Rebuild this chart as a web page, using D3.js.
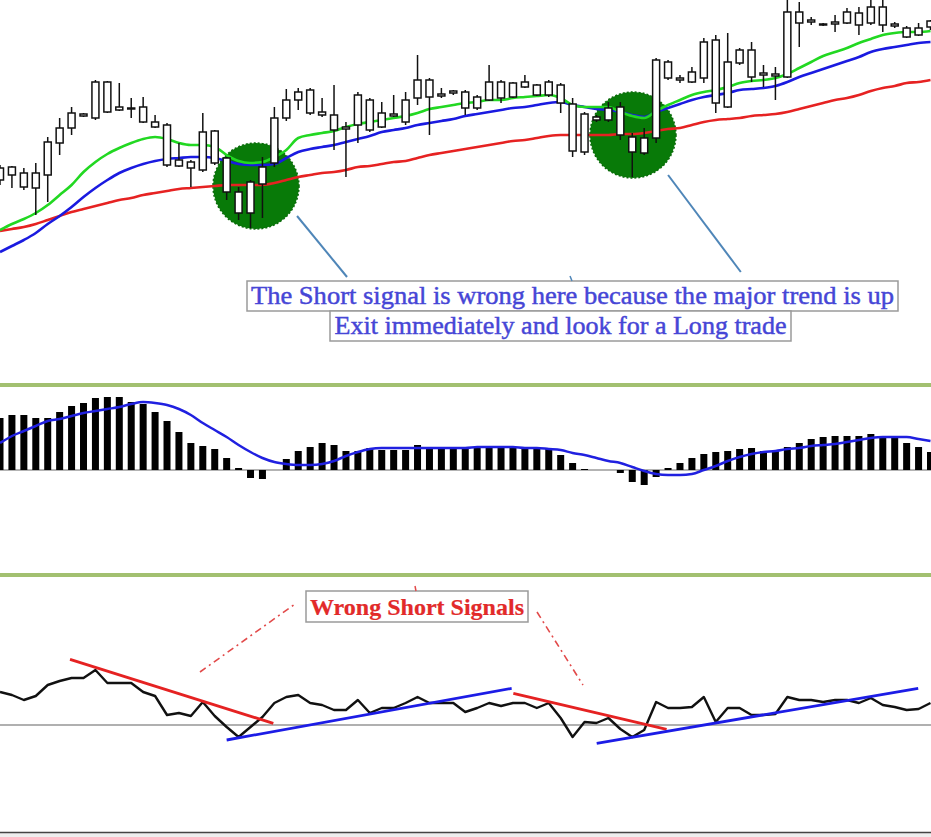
<!DOCTYPE html>
<html lang="en">
<head>
<meta charset="UTF-8" />
<title>Short signal against the major trend</title>
<script src="https://cdn.jsdelivr.net/npm/d3@7"></script>
<style>
  body { margin: 0; background: #fff; }
  svg { display: block; }
  .note { font-family: "Liberation Serif", "Times New Roman", serif; }
</style>
</head>
<body>
<svg id="chart" width="931" height="837"></svg>
<script>
// candles, one per bar (price in points)
const openP  = [120,133,127,112,125,157,172,186,182,218,190,192,193,178,175,134,138,130,169,142,108,87,116,137,182,200,210,188,185,171,175,200,173,186,178,202,220,204,207,208,192,200,218,203,213,215,205,215,196,148,183,180,193,163,147,162,238,222,218,222,260,193,237,250,225,226,223,288,278,276,276,277,287,277,293,276,272,265,273];
const highP  = [135,134,132,137,163,182,193,187,220,219,217,202,203,185,177,157,140,187,170,143,113,120,143,193,211,212,212,202,215,178,208,202,198,205,208,245,222,212,210,210,205,235,220,218,225,216,220,217,202,188,185,198,198,167,172,242,240,225,233,262,265,267,252,258,235,233,305,298,283,277,285,292,293,303,303,278,274,277,280];
const lowP   = [115,112,110,85,98,145,165,183,180,187,189,182,177,172,133,133,113,128,135,100,80,72,82,133,179,190,185,183,150,123,157,168,172,183,175,195,165,202,205,185,190,199,197,202,212,204,203,187,143,145,178,178,160,123,145,157,220,217,217,217,187,192,235,218,213,200,222,253,275,274,268,276,265,275,268,272,262,264,270];
const closeP = [132,125,113,127,158,172,187,184,218,188,193,191,178,173,135,140,132,168,137,108,87,118,133,182,200,208,187,185,170,173,205,170,187,184,200,220,203,206,209,192,203,218,202,217,218,205,218,197,149,186,180,192,165,148,162,240,222,220,228,258,197,238,250,223,227,224,288,277,280,275,278,288,275,293,275,274,263,272,279];

// moving averages
const maFast = [70,76,81,87,95,105,115,128,138,146,152,157,161,163,161,157,155,155,153,145,139,137,138,143,150,162,165,167,169,173,176,178,180,182,184,187,191,193,195,197,198,200,200,202,203,204,205,202,195,193,193,193,188,184,182,189,195,200,205,208,210,213,217,219,220,222,226,232,238,244,248,252,257,261,265,267,268,268,269];
const maMid  = [48,54,60,67,76,84,93,103,112,120,127,132,136,139,141,142,143,143,142,139,136,135,135,136,142,148,151,153,155,158,161,164,168,170,172,175,177,179,181,184,186,188,190,192,193,195,197,198,195,193,191,190,188,185,183,188,192,196,200,203,205,207,210,211,212,214,218,223,227,231,235,239,243,248,251,253,255,257,258];
const maSlow = [69,71,73,76,80,84,88,91,94,97,100,102,105,107,109,111,112,113,114,115,115,115,115,117,120,123,125,127,128,130,133,134,136,138,139,142,145,147,149,151,153,155,157,159,160,162,164,165,165,165,165,165,166,166,167,169,171,172,175,178,180,181,182,184,185,186,188,191,194,197,200,202,205,209,212,214,217,218,220];

// MACD histogram and signal
const macdHist = [5.2,5.5,5.5,5.2,5.2,5.8,6.4,6.7,7.2,7.3,7.3,6.8,6.6,5.8,4.9,3.8,2.7,2.4,2.1,1.2,0.2,-0.8,-0.9,0,1.1,1.9,2.3,2.7,2.5,1.9,1.9,2.2,2.0,2.0,2.0,2.5,2.3,2.3,2.3,2.2,2.2,2.2,2.2,2.2,2.2,2.2,2.2,1.5,0.7,0.1,0,0,-0.3,-1.2,-1.5,-0.7,0.2,0.7,1.2,1.6,1.8,1.9,2.1,2.2,1.9,1.9,2.3,2.7,3.1,3.3,3.4,3.4,3.4,3.6,3.3,3.3,2.7,2.3,1.8];
const macdSignal = [2.7,3.4,3.9,4.4,4.9,5.1,5.4,5.7,5.9,6.1,6.3,6.6,6.8,6.7,6.5,6.1,5.5,4.7,4.0,3.3,2.5,1.8,1.2,0.8,0.6,0.5,0.5,0.6,0.9,1.4,1.8,2.1,2.2,2.2,2.2,2.2,2.2,2.2,2.2,2.2,2.3,2.3,2.3,2.3,2.2,2.2,2.1,2.0,1.7,1.5,1.2,0.9,0.7,0.3,-0.1,-0.4,-0.5,-0.5,-0.4,0,0.4,0.9,1.3,1.6,1.8,1.9,2.1,2.2,2.4,2.5,2.6,2.8,3.0,3.2,3.3,3.3,3.3,3.1,2.9];

// oscillator
const osc = [66.5,65,62.5,64.5,70,72,73.5,73.5,77.5,71,71,71,66.5,64.5,55,56,54.5,61.5,54.5,49,44,49,54,61,64,65,61,60,57.5,57.5,62.5,56,58.5,58.5,61,64,61,61,61,56.5,58.5,61,59.5,61,61,58.5,61,53.5,44,51.5,51,53.5,48,44,47.5,61.5,58.5,58.5,59,64,51.5,58.5,58.5,55,55,55.5,64,62.5,62.5,61.5,62.5,62.5,61,63.5,60,59,57.5,58,61];
const oscLevel = 50;

// trendlines drawn on the oscillator: [bar, value, bar, value]
const redTrends  = [[5.87,82.8,22.91,50.8],[43.03,65.8,55.88,47.8]];
const blueTrends = [[19.0,42.5,42.89,68.3],[50.02,40.8,76.97,68.3]];

// marked signal zones on price: [bar, price]
const zones = [[21.46,114],[53.06,165]];
// callout lines from zones: [bar, price, bar, price]
const callouts = [[24.9,84,29.09,23],[56.0,125,62.1,28]];

const svg = d3.select("#chart");
const W = 931;

const x = d3.scaleLinear().domain([0, 78]).range([0, 930.5]);
const yPrice = d3.scaleLinear().domain([40, 300]).range([260, 0]);
const yMacd = d3.scaleLinear().domain([0, 10]).range([470, 370]);
const yOsc = d3.scaleLinear().domain([0, 100]).range([825, 625]);

svg.append("rect").attr("width", W).attr("height", 837).attr("fill", "#fff");

// ---- price pane ----
svg.selectAll("circle.zone")
  .data(zones)
  .enter()
  .append("circle")
  .attr("class", "zone")
  .attr("cx", d => x(d[0]))
  .attr("cy", d => yPrice(d[1]))
  .attr("r", 43)
  .attr("fill", "#087a08")
  .attr("stroke", "#0a6a0a")
  .attr("stroke-width", 1.5)
  .attr("stroke-dasharray", "2,2");

const maLine = d3.line().x((d, i) => x(i)).y(d => yPrice(d)).curve(d3.curveMonotoneX);
[[maSlow, "#e62222"], [maMid, "#1a1ae0"], [maFast, "#22d822"]].forEach(([s, c]) => {
  svg.append("path")
    .attr("d", maLine(s))
    .attr("fill", "none")
    .attr("stroke", c)
    .attr("stroke-width", 2.6);
});

const candles = openP.map((o, i) => ({ i, o, h: highP[i], l: lowP[i], c: closeP[i] }));
const cg = svg.append("g");
cg.selectAll("line")
  .data(candles)
  .enter()
  .append("line")
  .attr("x1", d => x(d.i))
  .attr("x2", d => x(d.i))
  .attr("y1", d => yPrice(d.h))
  .attr("y2", d => yPrice(d.l))
  .attr("stroke", "#111")
  .attr("stroke-width", 1.5);
cg.selectAll("rect")
  .data(candles)
  .enter()
  .append("rect")
  .attr("x", d => x(d.i) - 3.5)
  .attr("width", 7)
  .attr("y", d => yPrice(Math.max(d.o, d.c)))
  .attr("height", d => Math.max(1, Math.abs(yPrice(d.o) - yPrice(d.c))))
  .attr("fill", "#fff")
  .attr("stroke", "#111")
  .attr("stroke-width", 1.5);

// callout lines
svg.selectAll("line.callout")
  .data(callouts)
  .enter()
  .append("line")
  .attr("class", "callout")
  .attr("x1", d => x(d[0]))
  .attr("y1", d => yPrice(d[1]))
  .attr("x2", d => x(d[2]))
  .attr("y2", d => yPrice(d[3]))
  .attr("stroke", "#4f86b8")
  .attr("stroke-width", 2);

// text boxes
const noteBox = (bx, by, bw, bh, text, color, size, len, bold) => {
  svg.append("rect")
    .attr("x", bx).attr("y", by).attr("width", bw).attr("height", bh)
    .attr("fill", "#fff")
    .attr("stroke", "#9a9a9a")
    .attr("stroke-width", 1.5);
  svg.append("text")
    .attr("class", "note")
    .attr("x", bx + bw / 2)
    .attr("y", by + bh - 7)
    .attr("text-anchor", "middle")
    .attr("font-size", size)
    .attr("font-weight", bold ? "bold" : "normal")
    .attr("fill", color)
    .attr("stroke", color)
    .attr("stroke-width", bold ? 0.2 : 0.45)
    .attr("textLength", len)
    .attr("lengthAdjust", "spacingAndGlyphs")
    .text(text);
};
noteBox(247, 281, 651, 30, "The Short signal is wrong here because the major trend is up", "#4646d6", 25, 643, false);
noteBox(330, 311, 461, 30, "Exit immediately and look for a Long trade", "#4646d6", 25, 452, false);
// small marks left on the box edges
svg.append("line").attr("x1", 570).attr("y1", 276).attr("x2", 572).attr("y2", 281)
  .attr("stroke", "#4f86b8").attr("stroke-width", 1.5);

// ---- pane separators ----
[385, 575].forEach(yy => {
  svg.append("line")
    .attr("x1", 0).attr("x2", W)
    .attr("y1", yy).attr("y2", yy)
    .attr("stroke", "#a2c070")
    .attr("stroke-width", 4);
});

// ---- MACD pane ----
svg.append("line")
  .attr("x1", 0).attr("x2", W)
  .attr("y1", yMacd(0)).attr("y2", yMacd(0))
  .attr("stroke", "#9a9a9a")
  .attr("stroke-width", 1.5);

svg.append("g")
  .selectAll("rect")
  .data(macdHist)
  .enter()
  .append("rect")
  .attr("x", (d, i) => x(i) - 3.5)
  .attr("width", 7)
  .attr("y", d => yMacd(Math.max(0, d)))
  .attr("height", d => Math.abs(yMacd(d) - yMacd(0)))
  .attr("fill", "#000");

svg.append("path")
  .attr("d", d3.line().x((d, i) => x(i)).y(d => yMacd(d)).curve(d3.curveMonotoneX)(macdSignal))
  .attr("fill", "none")
  .attr("stroke", "#2020e0")
  .attr("stroke-width", 2.5);

// ---- oscillator pane ----
svg.append("line")
  .attr("x1", 0).attr("x2", W)
  .attr("y1", yOsc(oscLevel)).attr("y2", yOsc(oscLevel))
  .attr("stroke", "#b0b0b0")
  .attr("stroke-width", 2);

svg.append("path")
  .attr("d", d3.line().x((d, i) => x(i)).y(d => yOsc(d))(osc))
  .attr("fill", "none")
  .attr("stroke", "#111")
  .attr("stroke-width", 2.4)
  .attr("stroke-linejoin", "round");

const trend = (data, color) => {
  svg.append("g")
    .selectAll("line")
    .data(data)
    .enter()
    .append("line")
    .attr("x1", d => x(d[0]))
    .attr("y1", d => yOsc(d[1]))
    .attr("x2", d => x(d[2]))
    .attr("y2", d => yOsc(d[3]))
    .attr("stroke", color)
    .attr("stroke-width", 2.8);
};
trend(redTrends, "#e52222");
trend(blueTrends, "#1c1ce6");

// dash-dot pointers to the label
[[200, 672, 295, 604], [537, 612, 583, 685]].forEach(p => {
  svg.append("line")
    .attr("x1", p[0]).attr("y1", p[1])
    .attr("x2", p[2]).attr("y2", p[3])
    .attr("stroke", "#e24a4a")
    .attr("stroke-width", 1.6)
    .attr("stroke-dasharray", "7,4,2,4");
});
noteBox(306, 591, 222, 31, "Wrong Short Signals", "#e22a2a", 24, 214, true);
svg.append("line").attr("x1", 415).attr("y1", 586).attr("x2", 416).attr("y2", 591)
  .attr("stroke", "#e24a4a").attr("stroke-width", 1.5);

// bottom frame line
svg.append("rect").attr("x", 0).attr("y", 833).attr("width", W).attr("height", 4).attr("fill", "#eeeeee");
svg.append("line")
  .attr("x1", 0).attr("x2", W)
  .attr("y1", 832.5).attr("y2", 832.5)
  .attr("stroke", "#444")
  .attr("stroke-width", 1.5);
</script>
</body>
</html>
